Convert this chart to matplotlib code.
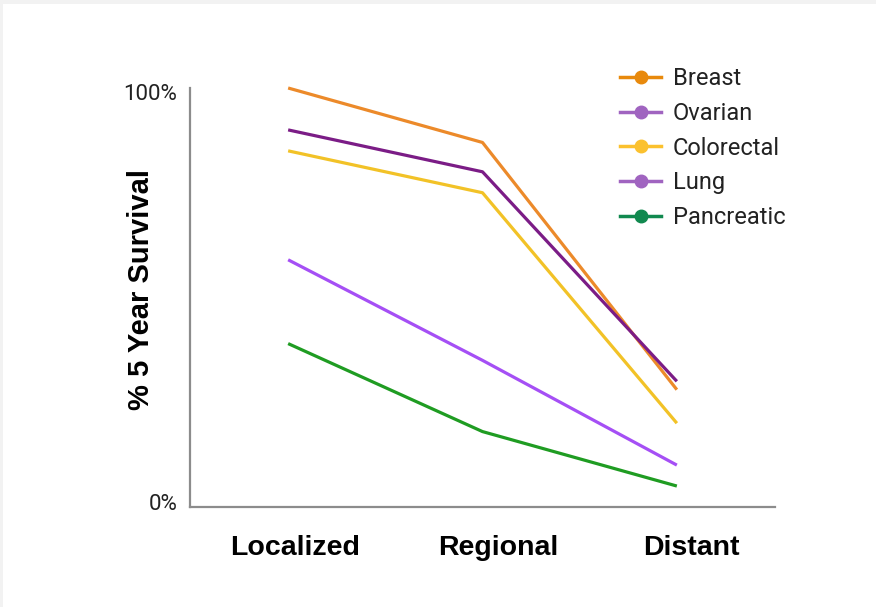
import matplotlib
matplotlib.use("Agg")
import matplotlib.pyplot as plt
from matplotlib.lines import Line2D
from matplotlib.patches import Rectangle
from matplotlib.transforms import offset_copy

stages = ["Localized", "Regional", "Distant"]
cancers = ["Breast", "Ovarian", "Colorectal", "Lung", "Pancreatic"]
breast = [100, 87, 28]
ovarian = [90, 80, 30]
colorectal = [85, 75, 20]
lung = [59, 35, 10]
pancreatic = [39, 18, 5]

line_colors = ["#ec8a2a", "#7b1c86", "#f2c227", "#a54ff5", "#1f9c22"]
legend_colors = ["#e8890c", "#a064c0", "#fbc12e", "#a064c0", "#11894f"]

W, H = 876, 607
fig = plt.figure(figsize=(W / 100, H / 100), dpi=100, facecolor="#f2f2f2")
fig.patches.append(Rectangle((3 / W, 0), 1, (H - 4) / H, transform=fig.transFigure,
                             facecolor="white", edgecolor="none", zorder=-5))

ax = fig.add_axes([190 / W, (H - 507) / H, (775 - 190) / W, (507 - 88) / H])
ax.set_facecolor("none")

series = [breast, ovarian, colorectal, lung, pancreatic]
x = list(range(len(stages)))
for vals, col in zip(series, line_colors):
    ax.plot(x, vals, color=col, lw=2.3, solid_capstyle="butt", clip_on=False)

ax.set_xlim(-0.505, 2.505)
ax.set_ylim(0, 100)

for s in ["top", "right"]:
    ax.spines[s].set_visible(False)
for s in ["left", "bottom"]:
    ax.spines[s].set_color("#8c8c8c")
    ax.spines[s].set_linewidth(1.6)

ax.set_xticks([])
ax.set_yticks([])

# stage names sit a little right of their data positions
for xi, name, dx in zip(x, stages, [7, 16, 15]):
    tr = offset_copy(ax.get_xaxis_transform(), fig=fig, x=dx, y=-41, units="dots")
    ax.text(xi, 0, name, transform=tr, ha="center", va="center",
            family=["Liberation Sans", "DejaVu Sans"], fontweight="bold",
            fontsize=20.5, color="black")

ax.text(-0.022, 100, "100%", transform=offset_copy(ax.get_yaxis_transform(), fig=fig, y=-6, units="dots"),
        ha="right", va="center", fontsize=16, family="Roboto", color="#222222")
ax.text(-0.022, 0, "0%", transform=offset_copy(ax.get_yaxis_transform(), fig=fig, y=3, units="dots"),
        ha="right", va="center", fontsize=16, family="Roboto", color="#222222")

fig.text(141 / W, 1 - 289 / H, "% 5 Year Survival", rotation=90, ha="center", va="center",
         fontsize=21, fontweight="bold", family=["Liberation Sans", "DejaVu Sans"],
         color="black")

handles = [Line2D([0], [0], color=c, lw=2.5, marker="o", markersize=9,
                  markerfacecolor=c, markeredgecolor=c) for c in legend_colors]
leg = fig.legend(handles, cancers, loc="upper left", bbox_to_anchor=(620 / W, 1 - 67 / H),
                 frameon=False, prop={"family": "Roboto", "size": 17},
                 handlelength=1.75, handletextpad=0.5, labelspacing=0.5,
                 borderaxespad=0, borderpad=0)
for t in leg.get_texts():
    t.set_color("#222222")

fig.savefig("out.png", dpi=100, facecolor=fig.get_facecolor())
